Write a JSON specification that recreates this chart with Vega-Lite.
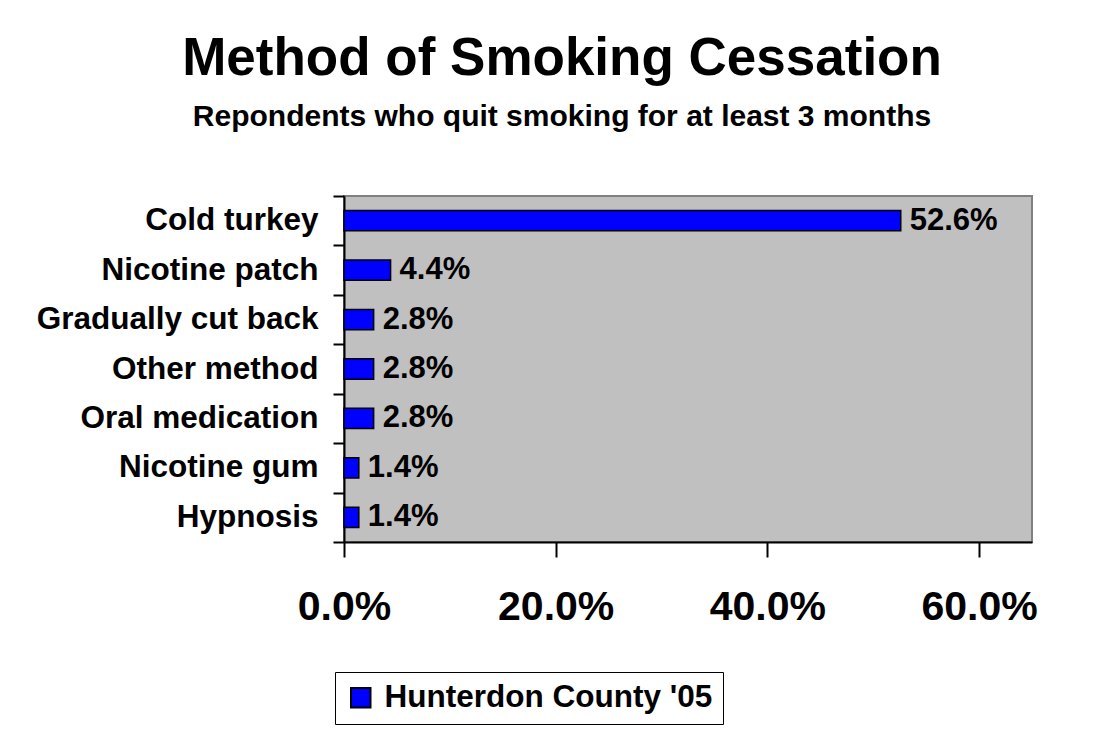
{
  "$schema": "https://vega.github.io/schema/vega-lite/v6.json",
  "autosize": {"type": "none"},
  "width": 688,
  "height": 346,
  "padding": {"left": 344, "top": 196, "right": 80, "bottom": 193},
  "background": "white",
  "title": {
    "text": "Method of Smoking Cessation",
    "subtitle": "Repondents who quit smoking for at least 3 months",
    "anchor": "middle",
    "frame": "group",
    "dx": -126,
    "font": "Liberation Sans",
    "fontSize": 53,
    "fontWeight": "bold",
    "color": "black",
    "subtitleFont": "Liberation Sans",
    "subtitleFontSize": 30,
    "subtitleFontWeight": "bold",
    "subtitleColor": "black",
    "subtitlePadding": 16,
    "offset": 48
  },
  "data": {
    "values": [
      {"method": "Cold turkey", "pct": 0.526, "series": "Hunterdon County '05"},
      {"method": "Nicotine patch", "pct": 0.044, "series": "Hunterdon County '05"},
      {"method": "Gradually cut back", "pct": 0.028, "series": "Hunterdon County '05"},
      {"method": "Other method", "pct": 0.028, "series": "Hunterdon County '05"},
      {"method": "Oral medication", "pct": 0.028, "series": "Hunterdon County '05"},
      {"method": "Nicotine gum", "pct": 0.014, "series": "Hunterdon County '05"},
      {"method": "Hypnosis", "pct": 0.014, "series": "Hunterdon County '05"}
    ]
  },
  "encoding": {
    "y": {
      "field": "method",
      "type": "nominal",
      "sort": ["Cold turkey", "Nicotine patch", "Gradually cut back", "Other method", "Oral medication", "Nicotine gum", "Hypnosis"],
      "scale": {"paddingInner": 0, "paddingOuter": 0},
      "axis": {
        "title": null,
        "tickBand": "extent",
        "domainColor": "black",
        "domainWidth": 2,
        "tickColor": "black",
        "tickWidth": 2,
        "tickSize": 11,
        "labelPadding": 15,
        "labelFont": "Liberation Sans",
        "labelFontSize": 31.5,
        "labelFontWeight": "bold",
        "labelColor": "black",
        "labelLimit": 400,
        "grid": false
      }
    },
    "x": {
      "field": "pct",
      "type": "quantitative",
      "scale": {"domain": [0, 0.65], "nice": false},
      "axis": {
        "title": null,
        "values": [0, 0.2, 0.4, 0.6],
        "format": ".1%",
        "grid": false,
        "labelFlush": false,
        "labelOverlap": false,
        "domainColor": "black",
        "domainWidth": 2,
        "tickColor": "black",
        "tickWidth": 2,
        "tickSize": 15,
        "labelPadding": 30,
        "labelFont": "Liberation Sans",
        "labelFontSize": 41,
        "labelFontWeight": "bold",
        "labelColor": "black"
      }
    }
  },
  "layer": [
    {
      "mark": {"type": "bar", "height": {"band": 0.41}, "stroke": "black", "strokeWidth": 1.5},
      "encoding": {
        "color": {
          "field": "series",
          "type": "nominal",
          "scale": {"range": ["#0000FF"]},
          "legend": {
            "title": null,
            "orient": "none",
            "legendX": -9,
            "legendY": 476,
            "direction": "vertical",
            "strokeColor": "black",
            "fillColor": "white",
            "padding": 10,
            "symbolType": "square",
            "symbolSize": 380,
            "symbolStrokeColor": "black",
            "symbolStrokeWidth": 2,
            "symbolOpacity": 1,
            "labelFont": "Liberation Sans",
            "labelFontSize": 31.5,
            "labelFontWeight": "bold",
            "labelColor": "black",
            "labelLimit": 500,
            "labelOffset": 8
          }
        }
      }
    },
    {
      "mark": {
        "type": "text",
        "align": "left",
        "baseline": "middle",
        "dx": 9,
        "font": "Liberation Sans",
        "fontSize": 31,
        "fontWeight": "bold",
        "color": "black"
      },
      "encoding": {
        "text": {"field": "pct", "type": "quantitative", "format": ".1%"}
      }
    }
  ],
  "config": {
    "view": {"fill": "#C0C0C0", "stroke": "#808080", "strokeWidth": 2}
  }
}
